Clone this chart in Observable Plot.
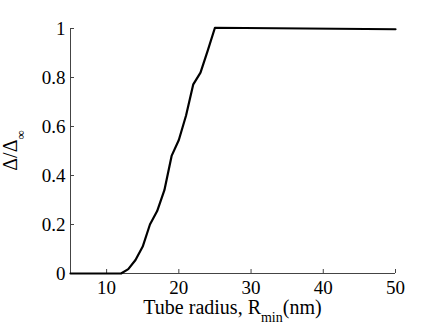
<!DOCTYPE html>
<html><head><meta charset="utf-8">
<script src="https://cdn.jsdelivr.net/npm/d3@7"></script>
<script src="https://cdn.jsdelivr.net/npm/@observablehq/plot@0.6"></script>
<style>body{margin:0;background:#fff} svg{display:block}</style>
</head><body><div id="chart"></div>
<script>
// Data
const radius = [5, 12, 13, 14, 15, 16, 17, 18, 19, 20, 21, 22, 23, 24, 25, 50];
const ratio  = [0, 0, 0.018, 0.055, 0.11, 0.2, 0.255, 0.34, 0.48, 0.545, 0.645, 0.772, 0.82, 0.91, 1.003, 0.997];
const xTicks = [10, 20, 30, 40, 50];
const yTicks = [0, 0.2, 0.4, 0.6, 0.8, 1];
const xLabelMain = "Tube radius, R";
const xLabelSub = "min";
const xLabelEnd = "(nm)";
const yLabelMain = "Δ/Δ";
const yLabelSub = "∞";

const data = radius.map((r, i) => ({r, v: ratio[i]}));
const axisColor = "#444";
const serif = "Liberation Serif";

const chart = Plot.plot({
  width: 436, height: 328,
  marginLeft: 70, marginRight: 41, marginTop: 28, marginBottom: 55,
  style: {fontFamily: serif, fontSize: "19px", color: "#000", background: "#fff", overflow: "visible"},
  x: {domain: [5, 50]},
  y: {domain: [0, 1]},
  marks: [
    Plot.ruleY([0], {stroke: axisColor}),
    Plot.ruleX([5], {stroke: axisColor}),
    Plot.axisX({ticks: xTicks, tickSize: -4, tickPadding: 11, label: null, stroke: axisColor, fill: "#000", fontFamily: serif, fontSize: 19}),
    Plot.axisY({ticks: yTicks, tickSize: -4, tickPadding: 9, tickFormat: d3.format("~g"), label: null, stroke: axisColor, fill: "#000", fontFamily: serif, fontSize: 19}),
    Plot.line(data, {x: "r", y: "v", stroke: "#000", strokeWidth: 2.2})
  ]
});

const svg = d3.select(chart);
const xs = chart.scale("x"), ys = chart.scale("y");
const xl = svg.append("text")
  .attr("x", (xs.range[0] + xs.range[1]) / 2)
  .attr("y", 314)
  .attr("text-anchor", "middle")
  .attr("fill", "#000")
  .attr("font-family", serif)
  .attr("font-size", 20);
xl.append("tspan").text(xLabelMain);
xl.append("tspan").attr("dy", 8).attr("font-size", 14).text(xLabelSub);
xl.append("tspan").attr("dy", -8).text(xLabelEnd);

const yl = svg.append("text")
  .attr("transform", `translate(17,${(ys.range[0] + ys.range[1]) / 2}) rotate(-90)`)
  .attr("text-anchor", "middle")
  .attr("fill", "#000")
  .attr("font-family", serif)
  .attr("font-size", 20);
yl.append("tspan").text(yLabelMain);
yl.append("tspan").attr("dy", 8).attr("font-size", 13).text(yLabelSub);

document.getElementById("chart").appendChild(chart);
</script>
</body></html>
